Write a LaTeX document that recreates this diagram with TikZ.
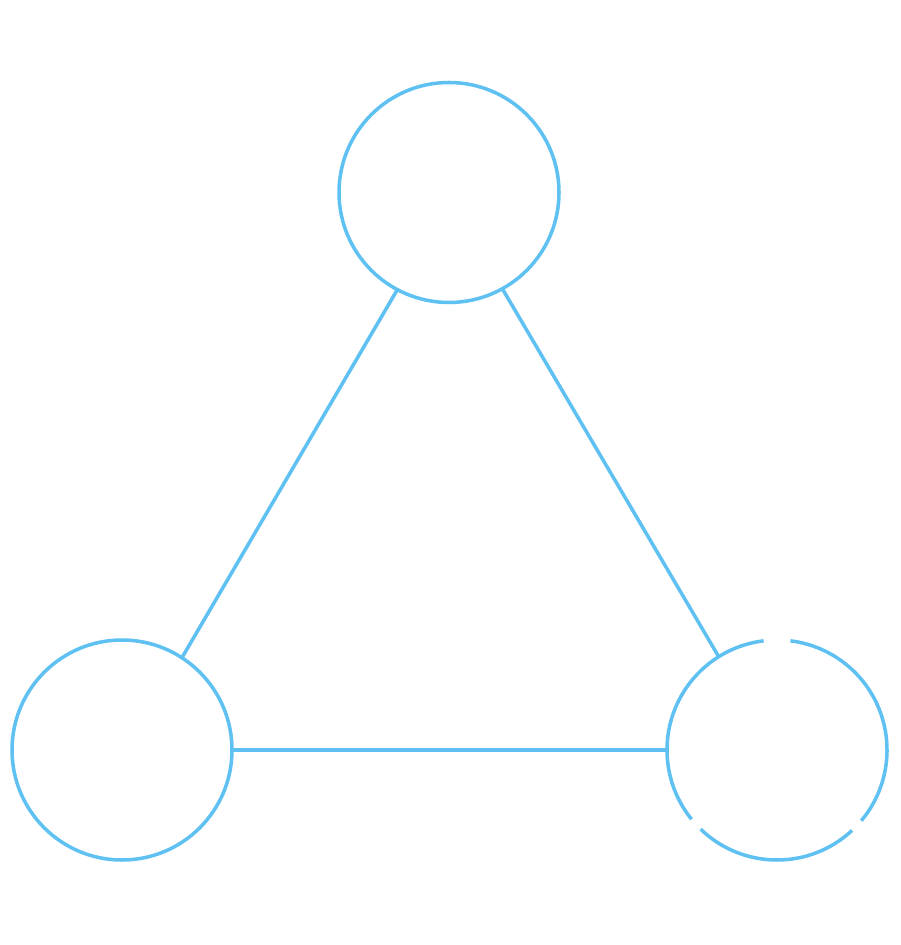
\documentclass[tikz,border=0pt]{standalone}
\usepackage{tikz}
\usetikzlibrary{positioning, calc}
\definecolor{skyline}{RGB}{94,193,242}

\begin{document}
\begin{tikzpicture}[
  vbox/.style={circle, draw=skyline, line width=1pt, minimum size=2.2cm,
               inner sep=0pt, outer sep=0pt},
  edge/.style={draw=skyline, line width=1pt},
]
\useasboundingbox (0,0) rectangle (9,-9.45);

%% VERTICES
\node[vbox] (T) at (4.49, -1.925) {};
\node[vbox] (L) at (1.22, -7.50)  {};
\node[vbox, draw=none] (R) at (7.77, -7.50) {};

%% right vertex drawn as broken ring
\draw[edge] ($(R.center)+(97:1.1)$)  arc[start angle=97,  end angle=219, radius=1.1];
\draw[edge] ($(R.center)+(226:1.1)$) arc[start angle=226, end angle=313, radius=1.1];
\draw[edge] ($(R.center)+(320:1.1)$) arc[start angle=320, end angle=443, radius=1.1];

%% EDGES
\draw[edge] (T.242) -- (L.57);
\draw[edge] (T.299) -- (R.122);
\draw[edge] (L.-0.5) -- (R.180.5);

\end{tikzpicture}
\end{document}
